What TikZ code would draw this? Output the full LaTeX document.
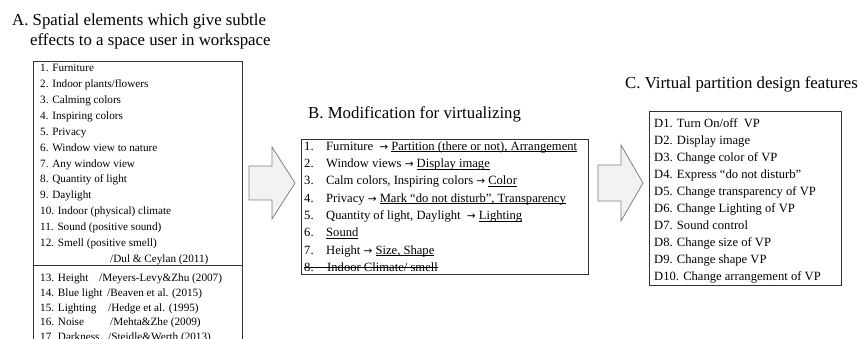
\documentclass[tikz,border=0pt]{standalone}
\usepackage{fontspec}
\setmainfont{Liberation Serif}
\newfontfamily\arrowfont{DejaVu Sans}
\newcommand\ulx[1]{\setbox0\hbox{#1}\rlap{\rule[-1.8pt]{\wd0}{0.6pt}}\box0}
\newcommand\stk[1]{\setbox0\hbox{#1}\rlap{\rule[0.28em]{\wd0}{0.6pt}}\box0}
\newcommand\rarr{{\arrowfont\fontsize{10.5}{10}\selectfont →}}
\definecolor{arrfill}{HTML}{F2F2F2}
\definecolor{arrline}{HTML}{808080}
\definecolor{boxline}{HTML}{333333}
\tikzset{
  ttl/.style={anchor=base west, inner sep=0pt, font=\fontsize{16.8}{18}\selectfont},
  ta/.style={anchor=base west, inner sep=0pt, font=\fontsize{11.2}{13}\selectfont},
  tb/.style={anchor=base west, inner sep=0pt, font=\fontsize{12.6}{14}\selectfont},
  frame/.style={draw=boxline, line width=0.9pt, inner sep=0pt, anchor=north west},
  blockarrow/.style={draw=arrline, fill=arrfill, line width=0.8pt, line join=miter}
}
\begin{document}
\begin{tikzpicture}[x=1pt, y=-1pt]
\useasboundingbox (0,0) rectangle (859,339);
\clip (0,0) rectangle (859,339);
% titles
\node[ttl] (tA1) at (12,25.6) {A. Spatial elements which give subtle};
\node[ttl] (tA2) at (30,45.6) {effects to a space user in workspace};
\node[ttl] (tB) at (308,118.6) {B. Modification for virtualizing};
\node[ttl] (tC) at (625,88.6) {C. Virtual partition design features};
% box A
\node[frame, minimum width=209pt, minimum height=300pt] (boxA) at (33,61) {};
\draw[boxline, line width=0.9pt] (boxA.west |- 0,265) coordinate (dA1) -- (boxA.east |- 0,265) coordinate (dA2);
\foreach \t [count=\i] in {1. Furniture, 2. Indoor plants/flowers, 3. Calming colors, 4. Inspiring colors, 5. Privacy, 6. Window view to nature, 7. Any window view, 8. Quantity of light, 9. Daylight, 10. Indoor (physical) climate, 11. Sound (positive sound), 12. Smell (positive smell)}
  \node[ta] (a\i) at (40,{71.7+15.9*(\i-1)}) {\t};
\node[ta] (aref) at (110,262.8) {/Dul \& Ceylan (2011)};
\node[ta] (a13) at (40,281) {13. Height};
\node[ta] (r13) at (99,281) {/Meyers-Levy\&Zhu (2007)};
\node[ta] (a14) at (40,296.4) {14. Blue light};
\node[ta] (r14) at (107,296.4) {/Beaven et al. (2015)};
\node[ta] (a15) at (40,311.2) {15. Lighting};
\node[ta] (r15) at (108,311.2) {/Hedge et al. (1995)};
\node[ta] (a16) at (40,325.8) {16. Noise};
\node[ta] (r16) at (110,325.8) {/Mehta\&Zhe (2009)};
\node[ta] (a17) at (40,340.4) {17. Darkness};
\node[ta] (r17) at (108,340.4) {/Steidle\&Werth (2013)};
% arrow 1
\draw[blockarrow] (249,166) coordinate (ar1s) -- (272,166) -- (272,147) -- (295,183) coordinate (ar1t) -- (272,219) -- (272,200) -- (249,200) -- cycle;
% box B
\node[frame, minimum width=287pt, minimum height=135pt] (boxB) at (301,139) {};
\foreach \n [count=\i] in {1.,2.,3.,4.,5.,6.,7.}
  \node[tb] (bn\i) at (304,{150.2+17.3*(\i-1)}) {\n};
\node[tb] (b1) at (326,150.2) {Furniture \ \rarr\ \ulx{Partition (there or not), Arrangement}};
\node[tb] (b2) at (326,167.5) {Window views \rarr\ \ulx{Display image}};
\node[tb] (b3) at (326,184.8) {Calm colors, Inspiring colors \rarr\ \ulx{Color}};
\node[tb] (b4) at (326,202.1) {Privacy \rarr\ \ulx{Mark “do not disturb”, Transparency}};
\node[tb] (b5) at (326,219.4) {Quantity of light, Daylight \ \rarr\ \ulx{Lighting}};
\node[tb] (b6) at (326,236.7) {\ulx{Sound}};
\node[tb] (b7) at (326,254.0) {Height \rarr\ \ulx{Size, Shape}};
\node[tb] (b8) at (304,271.3) {\stk{8.\hbox to 13.6pt{}Indoor Climate/ smell}};
% arrow 2
\draw[blockarrow] (598,165) coordinate (ar2s) -- (621,165) -- (621,145) -- (643,183) coordinate (ar2t) -- (621,221) -- (621,201) -- (598,201) -- cycle;
% box C
\node[frame, minimum width=192pt, minimum height=174pt] (boxC) at (649,111) {};
\foreach \t [count=\i] in {D1. Turn On/off \ VP, D2. Display image, D3. Change color of VP, D4. Express “do not disturb”, D5. Change transparency of VP, D6. Change Lighting of VP, D7. Sound control, D8. Change size of VP, D9. Change shape VP, D10. Change arrangement of VP}
  \node[tb] (c\i) at (654,{127.2+17*(\i-1)}) {\t};
\end{tikzpicture}
\end{document}
